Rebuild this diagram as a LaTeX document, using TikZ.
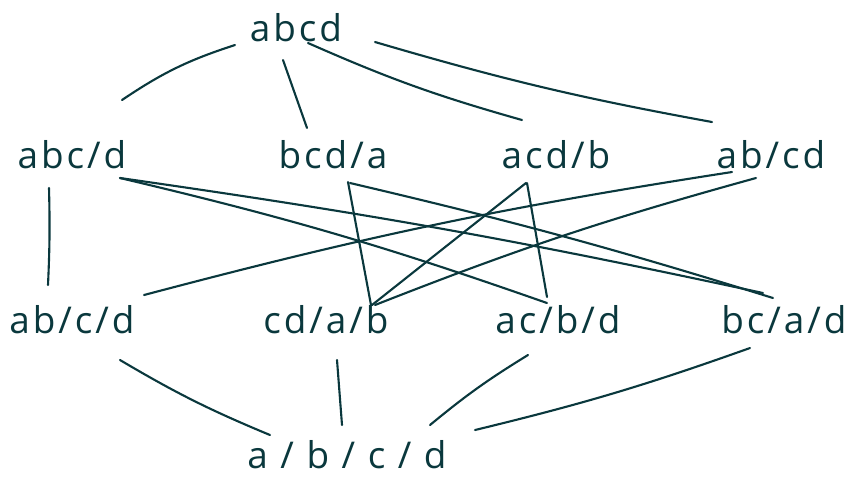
\documentclass[tikz,border=0pt]{standalone}
\usepackage{fontspec}
\usepackage{xcolor}
\usepackage{tikz}
\usetikzlibrary{calc}
\newfontfamily\partfont{Open Sans}[LetterSpace=8]
\definecolor{ink}{HTML}{0A383D}

\begin{document}
\begin{tikzpicture}[x=0.02cm, y=-0.02cm,
  part/.style={font={\partfont\fontsize{21}{25}\selectfont}, text=ink, inner sep=0pt},
  link/.style={draw=ink, line width=1.2pt, line cap=round}
]
\useasboundingbox (0,0) rectangle (861,478);
% top
\node[part] (abcd) at (296,28) {abcd};
% two blocks
\node[part] (abc-d) at (72,155) {abc/d};
\node[part] (bcd-a) at (333,155) {bcd/a};
\node[part] (acd-b) at (556,155) {acd/b};
\node[part] (ab-cd) at (771,155) {ab/cd};
% three blocks
\node[part] (ab-c-d) at (72,320) {ab/c/d};
\node[part] (cd-a-b) at (326,320) {cd/a/b};
\node[part] (ac-b-d) at (558,320) {ac/b/d};
\node[part] (bc-a-d) at (784,320) {bc/a/d};
% bottom
\node[part] (a-b-c-d) at (347,455) {a / b / c / d};
% top links
\draw[link] ([shift={(-61,17)}]abcd.center) to[bend right=8] ([shift={(50,-55)}]abc-d.center);
\draw[link] ([shift={(-13,32)}]abcd.center) -- ([shift={(-26,-27)}]bcd-a.center);
\draw[link] ([shift={(12,15)}]abcd.center) to[bend right=4] ([shift={(-34,-35)}]acd-b.center);
\draw[link] ([shift={(79,14)}]abcd.center) to[bend right=3] ([shift={(-59,-33)}]ab-cd.center);
% middle links
\draw[link] ([shift={(-23,33)}]abc-d.center) to[bend left=2] ([shift={(-24,-35)}]ab-c-d.center);
\draw[link] ([shift={(48,23)}]abc-d.center) to[bend left=3] ([shift={(-11,-17)}]ac-b-d.center);
\draw[link] ([shift={(48,23)}]abc-d.center) to[bend left=2] ([shift={(-21,-27)}]bc-a-d.center);
\draw[link] ([shift={(15,27)}]bcd-a.center) -- ([shift={(45,-15)}]cd-a-b.center);
\draw[link] ([shift={(17,28)}]bcd-a.center) to[bend left=2] ([shift={(-11,-22)}]bc-a-d.center);
\draw[link] ([shift={(-30,28)}]acd-b.center) -- ([shift={(46,-15)}]cd-a-b.center);
\draw[link] ([shift={(-29,28)}]acd-b.center) -- ([shift={(-11,-23)}]ac-b-d.center);
\draw[link] ([shift={(-39,17)}]ab-cd.center) to[bend right=3] ([shift={(72,-25)}]ab-c-d.center);
\draw[link] ([shift={(-15,23)}]ab-cd.center) to[bend right=3] ([shift={(49,-15)}]cd-a-b.center);
% bottom links
\draw[link] ([shift={(48,40)}]ab-c-d.center) to[bend right=4] ([shift={(-77,-20)}]a-b-c-d.center);
\draw[link] ([shift={(11,40)}]cd-a-b.center) -- ([shift={(-5,-30)}]a-b-c-d.center);
\draw[link] ([shift={(-30,35)}]ac-b-d.center) to[bend right=4] ([shift={(83,-30)}]a-b-c-d.center);
\draw[link] ([shift={(-34,28)}]bc-a-d.center) to[bend left=3] ([shift={(128,-25)}]a-b-c-d.center);
\end{tikzpicture}
\end{document}
